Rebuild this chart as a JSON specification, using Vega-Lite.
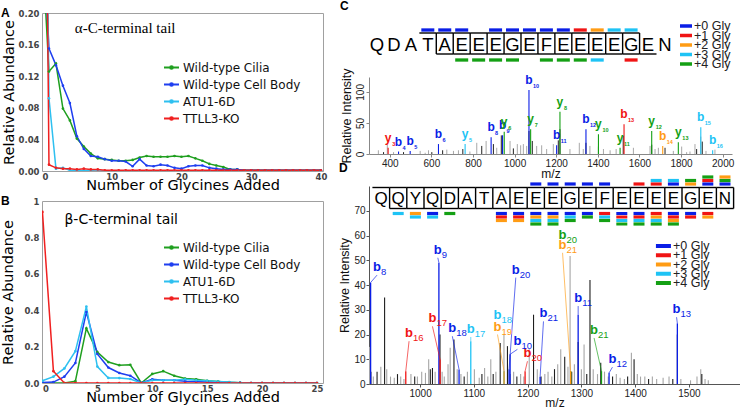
{
"$schema": "https://vega.github.io/schema/vega-lite/v6.json",
"background": "white",
"padding": {"left": 0, "top": 0, "right": 0, "bottom": 0},
"config": {"view": {"stroke": null}, "font": "Liberation Sans", "axis": {"labelOverlap": false, "labelBound": false}},
"datasets": {
"alpha": [
{"n":0,"Wild-type Cilia":0.29,"Wild-type Cell Body":0.33,"ATU1-6D":0.9,"TTLL3-KO":0.97},
{"n":1,"Wild-type Cilia":0.126,"Wild-type Cell Body":0.155,"ATU1-6D":0.092,"TTLL3-KO":0.008},
{"n":2,"Wild-type Cilia":0.136,"Wild-type Cell Body":0.134,"ATU1-6D":0.003,"TTLL3-KO":0.004},
{"n":3,"Wild-type Cilia":0.079,"Wild-type Cell Body":0.108,"ATU1-6D":0.004,"TTLL3-KO":0.003},
{"n":4,"Wild-type Cilia":0.064,"Wild-type Cell Body":0.086,"ATU1-6D":0.001,"TTLL3-KO":0.003},
{"n":5,"Wild-type Cilia":0.041,"Wild-type Cell Body":0.044,"ATU1-6D":0.0005,"TTLL3-KO":0.002},
{"n":6,"Wild-type Cilia":0.031,"Wild-type Cell Body":0.028,"ATU1-6D":0.0003,"TTLL3-KO":0.003},
{"n":7,"Wild-type Cilia":0.022,"Wild-type Cell Body":0.019,"ATU1-6D":0.0002,"TTLL3-KO":0.002},
{"n":8,"Wild-type Cilia":0.016,"Wild-type Cell Body":0.018,"ATU1-6D":0.0001,"TTLL3-KO":0.002},
{"n":9,"Wild-type Cilia":0.015,"Wild-type Cell Body":0.015,"ATU1-6D":0,"TTLL3-KO":0.001},
{"n":10,"Wild-type Cilia":0.014,"Wild-type Cell Body":0.013,"ATU1-6D":0,"TTLL3-KO":0.001},
{"n":11,"Wild-type Cilia":0.013,"Wild-type Cell Body":0.013,"ATU1-6D":0,"TTLL3-KO":0.001},
{"n":12,"Wild-type Cilia":0.013,"Wild-type Cell Body":0.012,"ATU1-6D":0,"TTLL3-KO":0.001},
{"n":13,"Wild-type Cilia":0.014,"Wild-type Cell Body":0.006,"ATU1-6D":0,"TTLL3-KO":0.001},
{"n":14,"Wild-type Cilia":0.017,"Wild-type Cell Body":0.015,"ATU1-6D":0,"TTLL3-KO":0.001},
{"n":15,"Wild-type Cilia":0.019,"Wild-type Cell Body":0.007,"ATU1-6D":0,"TTLL3-KO":0.001},
{"n":16,"Wild-type Cilia":0.018,"Wild-type Cell Body":0.006,"ATU1-6D":0,"TTLL3-KO":0.001},
{"n":17,"Wild-type Cilia":0.018,"Wild-type Cell Body":0.008,"ATU1-6D":0,"TTLL3-KO":0.001},
{"n":18,"Wild-type Cilia":0.018,"Wild-type Cell Body":0.007,"ATU1-6D":0,"TTLL3-KO":0.001},
{"n":19,"Wild-type Cilia":0.019,"Wild-type Cell Body":0.004,"ATU1-6D":0,"TTLL3-KO":0.001},
{"n":20,"Wild-type Cilia":0.018,"Wild-type Cell Body":0.003,"ATU1-6D":0,"TTLL3-KO":0.001},
{"n":21,"Wild-type Cilia":0.019,"Wild-type Cell Body":0.006,"ATU1-6D":0,"TTLL3-KO":0.001},
{"n":22,"Wild-type Cilia":0.016,"Wild-type Cell Body":0.007,"ATU1-6D":0,"TTLL3-KO":0.001},
{"n":23,"Wild-type Cilia":0.013,"Wild-type Cell Body":0.007,"ATU1-6D":0,"TTLL3-KO":0.001},
{"n":24,"Wild-type Cilia":0.009,"Wild-type Cell Body":0.004,"ATU1-6D":0,"TTLL3-KO":0.001},
{"n":25,"Wild-type Cilia":0.007,"Wild-type Cell Body":0.003,"ATU1-6D":0,"TTLL3-KO":0.001},
{"n":26,"Wild-type Cilia":0.005,"Wild-type Cell Body":0.002,"ATU1-6D":0,"TTLL3-KO":0.001},
{"n":27,"Wild-type Cilia":0.002,"Wild-type Cell Body":0.002,"ATU1-6D":0,"TTLL3-KO":0.001},
{"n":28,"Wild-type Cilia":0.002,"Wild-type Cell Body":0.002,"ATU1-6D":0,"TTLL3-KO":0.001},
{"n":29,"Wild-type Cilia":0.001,"Wild-type Cell Body":0.001,"ATU1-6D":0,"TTLL3-KO":0.001},
{"n":30,"Wild-type Cilia":0.001,"Wild-type Cell Body":0.001,"ATU1-6D":0,"TTLL3-KO":0.001},
{"n":31,"Wild-type Cilia":0.001,"Wild-type Cell Body":0.001,"ATU1-6D":0,"TTLL3-KO":0.001},
{"n":32,"Wild-type Cilia":0.001,"Wild-type Cell Body":0.001,"ATU1-6D":0,"TTLL3-KO":0.001},
{"n":33,"Wild-type Cilia":0.001,"Wild-type Cell Body":0.001,"ATU1-6D":0,"TTLL3-KO":0.001},
{"n":34,"Wild-type Cilia":0.001,"Wild-type Cell Body":0.001,"ATU1-6D":0,"TTLL3-KO":0.001},
{"n":35,"Wild-type Cilia":0.001,"Wild-type Cell Body":0.001,"ATU1-6D":0,"TTLL3-KO":0.001},
{"n":36,"Wild-type Cilia":0.001,"Wild-type Cell Body":0.001,"ATU1-6D":0,"TTLL3-KO":0.001},
{"n":37,"Wild-type Cilia":0.001,"Wild-type Cell Body":0.001,"ATU1-6D":0,"TTLL3-KO":0.001},
{"n":38,"Wild-type Cilia":0.001,"Wild-type Cell Body":0.001,"ATU1-6D":0,"TTLL3-KO":0.001},
{"n":39,"Wild-type Cilia":0.001,"Wild-type Cell Body":0.001,"ATU1-6D":0,"TTLL3-KO":0.001},
{"n":40,"Wild-type Cilia":0.001,"Wild-type Cell Body":0.001,"ATU1-6D":0,"TTLL3-KO":0.001}
],
"beta": [
{"n":0,"Wild-type Cilia":0,"Wild-type Cell Body":0.003,"ATU1-6D":0.012,"TTLL3-KO":0.94},
{"n":1,"Wild-type Cilia":0,"Wild-type Cell Body":0.005,"ATU1-6D":0.035,"TTLL3-KO":0.065},
{"n":2,"Wild-type Cilia":0,"Wild-type Cell Body":0.035,"ATU1-6D":0.08,"TTLL3-KO":0},
{"n":3,"Wild-type Cilia":0.01,"Wild-type Cell Body":0.11,"ATU1-6D":0.175,"TTLL3-KO":0},
{"n":4,"Wild-type Cilia":0.3,"Wild-type Cell Body":0.39,"ATU1-6D":0.42,"TTLL3-KO":0},
{"n":5,"Wild-type Cilia":0.17,"Wild-type Cell Body":0.16,"ATU1-6D":0.09,"TTLL3-KO":0},
{"n":6,"Wild-type Cilia":0.115,"Wild-type Cell Body":0.085,"ATU1-6D":0.028,"TTLL3-KO":0},
{"n":7,"Wild-type Cilia":0.098,"Wild-type Cell Body":0.055,"ATU1-6D":0.027,"TTLL3-KO":0},
{"n":8,"Wild-type Cilia":0.1,"Wild-type Cell Body":0.04,"ATU1-6D":0.022,"TTLL3-KO":0},
{"n":9,"Wild-type Cilia":0,"Wild-type Cell Body":0,"ATU1-6D":0,"TTLL3-KO":0},
{"n":10,"Wild-type Cilia":0.05,"Wild-type Cell Body":0.02,"ATU1-6D":0.015,"TTLL3-KO":0},
{"n":11,"Wild-type Cilia":0.065,"Wild-type Cell Body":0.015,"ATU1-6D":0.015,"TTLL3-KO":0},
{"n":12,"Wild-type Cilia":0.04,"Wild-type Cell Body":0.015,"ATU1-6D":0.015,"TTLL3-KO":0},
{"n":13,"Wild-type Cilia":0.025,"Wild-type Cell Body":0.01,"ATU1-6D":0.02,"TTLL3-KO":0},
{"n":14,"Wild-type Cilia":0.02,"Wild-type Cell Body":0.008,"ATU1-6D":0.015,"TTLL3-KO":0},
{"n":15,"Wild-type Cilia":0.012,"Wild-type Cell Body":0.005,"ATU1-6D":0.012,"TTLL3-KO":0},
{"n":16,"Wild-type Cilia":0.008,"Wild-type Cell Body":0.003,"ATU1-6D":0.008,"TTLL3-KO":0},
{"n":17,"Wild-type Cilia":0.004,"Wild-type Cell Body":0.002,"ATU1-6D":0.005,"TTLL3-KO":0},
{"n":18,"Wild-type Cilia":0.002,"Wild-type Cell Body":0.001,"ATU1-6D":0.002,"TTLL3-KO":0},
{"n":19,"Wild-type Cilia":0,"Wild-type Cell Body":0,"ATU1-6D":0,"TTLL3-KO":0},
{"n":20,"Wild-type Cilia":0,"Wild-type Cell Body":0,"ATU1-6D":0,"TTLL3-KO":0},
{"n":21,"Wild-type Cilia":0,"Wild-type Cell Body":0,"ATU1-6D":0,"TTLL3-KO":0},
{"n":22,"Wild-type Cilia":0,"Wild-type Cell Body":0,"ATU1-6D":0,"TTLL3-KO":0},
{"n":23,"Wild-type Cilia":0,"Wild-type Cell Body":0,"ATU1-6D":0,"TTLL3-KO":0},
{"n":24,"Wild-type Cilia":0,"Wild-type Cell Body":0,"ATU1-6D":0,"TTLL3-KO":0},
{"n":25,"Wild-type Cilia":0,"Wild-type Cell Body":0,"ATU1-6D":0,"TTLL3-KO":0}
],
"gly": [{"g":"+0 Gly"},{"g":"+1 Gly"},{"g":"+2 Gly"},{"g":"+3 Gly"},{"g":"+4 Gly"}],
"cpk": [{"mz":345,"i":6,"t":"l"},{"mz":370,"i":3,"t":"d"},{"mz":388,"i":15,"t":"l"},{"mz":418,"i":3,"t":"l"},{"mz":466,"i":3,"t":"d"},{"mz":546,"i":5,"t":"l"},{"mz":570,"i":2,"t":"l"},{"mz":586,"i":6,"t":"l"},{"mz":602,"i":3,"t":"d"},{"mz":654,"i":6,"t":"d"},{"mz":674,"i":7,"t":"l"},{"mz":706,"i":5,"t":"l"},{"mz":730,"i":6,"t":"l"},{"mz":751,"i":8,"t":"d"},{"mz":785,"i":4,"t":"l"},{"mz":818,"i":18,"t":"l"},{"mz":842,"i":13,"t":"d"},{"mz":863,"i":21,"t":"l"},{"mz":898,"i":16,"t":"d"},{"mz":914,"i":10,"t":"l"},{"mz":936,"i":30,"t":"d"},{"mz":978,"i":21,"t":"l"},{"mz":994,"i":9,"t":"d"},{"mz":1013,"i":16,"t":"l"},{"mz":1029,"i":14,"t":"l"},{"mz":1042,"i":16,"t":"l"},{"mz":1058,"i":13,"t":"l"},{"mz":1069,"i":37,"t":"d"},{"mz":1085,"i":21,"t":"d"},{"mz":1106,"i":13,"t":"l"},{"mz":1130,"i":14,"t":"l"},{"mz":1154,"i":8,"t":"l"},{"mz":1186,"i":16,"t":"l"},{"mz":1210,"i":22,"t":"d"},{"mz":1218,"i":40,"t":"d"},{"mz":1266,"i":8,"t":"l"},{"mz":1311,"i":18,"t":"l"},{"mz":1330,"i":8,"t":"l"},{"mz":1343,"i":18,"t":"d"},{"mz":1362,"i":13,"t":"l"},{"mz":1403,"i":12,"t":"d"},{"mz":1427,"i":8,"t":"l"},{"mz":1459,"i":6,"t":"l"},{"mz":1488,"i":8,"t":"l"},{"mz":1522,"i":29,"t":"d"},{"mz":1571,"i":10,"t":"l"},{"mz":1651,"i":13,"t":"l"},{"mz":1659,"i":15,"t":"d"},{"mz":1675,"i":8,"t":"l"},{"mz":1691,"i":10,"t":"l"},{"mz":1723,"i":10,"t":"d"},{"mz":1763,"i":5,"t":"l"},{"mz":1803,"i":12,"t":"l"},{"mz":1827,"i":3,"t":"l"},{"mz":1843,"i":4,"t":"l"},{"mz":1867,"i":16,"t":"l"},{"mz":1875,"i":8,"t":"d"},{"mz":1895,"i":28,"t":"l"},{"mz":1902,"i":20,"t":"d"},{"mz":1920,"i":5,"t":"l"},{"mz":1963,"i":7,"t":"l"}],
"cann": [
{"mz":392,"i":10,"g":"+1 Gly","ion":"y","k":"3"},
{"mz":442,"i":4,"g":"+0 Gly","ion":"b","k":"4"},
{"mz":498,"i":5,"g":"+0 Gly","ion":"b","k":"5"},
{"mz":634,"i":16,"g":"+0 Gly","ion":"b","k":"6"},
{"mz":762,"i":16,"g":"+3 Gly","ion":"y","k":"5"},
{"mz":887,"i":27,"g":"+0 Gly","ion":"b","k":"8"},
{"mz":942,"i":30,"g":"+0 Gly","ion":"b","k":"9"},
{"mz":950,"i":36,"g":"+4 Gly","ion":"y","k":"6"},
{"mz":1069,"i":103,"g":"+0 Gly","ion":"b","k":"10"},
{"mz":1077,"i":40,"g":"+4 Gly","ion":"y","k":"7"},
{"mz":1202,"i":14,"g":"+0 Gly","ion":"b","k":"11"},
{"mz":1218,"i":68,"g":"+4 Gly","ion":"y","k":"8"},
{"mz":1343,"i":40,"g":"+0 Gly","ion":"b","k":"12"},
{"mz":1403,"i":32,"g":"+4 Gly","ion":"y","k":"10"},
{"mz":1507,"i":10,"g":"+4 Gly","ion":"y","k":"11"},
{"mz":1526,"i":48,"g":"+1 Gly","ion":"b","k":"13"},
{"mz":1659,"i":37,"g":"+4 Gly","ion":"y","k":"12"},
{"mz":1712,"i":13,"g":"+2 Gly","ion":"b","k":"14"},
{"mz":1787,"i":19,"g":"+4 Gly","ion":"y","k":"13"},
{"mz":1895,"i":43,"g":"+3 Gly","ion":"b","k":"15"},
{"mz":1952,"i":6,"g":"+3 Gly","ion":"b","k":"16"}
],
"cseq": [{"p":1,"a":"Q"},{"p":2,"a":"D"},{"p":3,"a":"A"},{"p":4,"a":"T"},{"p":5,"a":"A"},{"p":6,"a":"E"},{"p":7,"a":"E"},{"p":8,"a":"E"},{"p":9,"a":"G"},{"p":10,"a":"E"},{"p":11,"a":"F"},{"p":12,"a":"E"},{"p":13,"a":"E"},{"p":14,"a":"E"},{"p":15,"a":"E"},{"p":16,"a":"G"},{"p":17,"a":"E"},{"p":18,"a":"N"}],
"csite": [{"n":4},{"n":5},{"n":6},{"n":7},{"n":8},{"n":9},{"n":10},{"n":11},{"n":12},{"n":13},{"n":14},{"n":15},{"n":16}],
"cbar": [
{"p":4,"g":"+0 Gly","lv":1},{"p":5,"g":"+0 Gly","lv":1},{"p":6,"g":"+0 Gly","lv":1},{"p":8,"g":"+0 Gly","lv":1},{"p":9,"g":"+0 Gly","lv":1},{"p":10,"g":"+0 Gly","lv":1},{"p":11,"g":"+0 Gly","lv":1},{"p":12,"g":"+0 Gly","lv":1},{"p":13,"g":"+1 Gly","lv":1},{"p":14,"g":"+2 Gly","lv":1},{"p":15,"g":"+3 Gly","lv":1},{"p":16,"g":"+3 Gly","lv":1},
{"p":6,"g":"+4 Gly","lv":-1},{"p":7,"g":"+4 Gly","lv":-1},{"p":8,"g":"+4 Gly","lv":-1},{"p":9,"g":"+4 Gly","lv":-1},{"p":11,"g":"+4 Gly","lv":-1},{"p":12,"g":"+4 Gly","lv":-1},{"p":13,"g":"+4 Gly","lv":-1},{"p":14,"g":"+3 Gly","lv":-1},{"p":16,"g":"+1 Gly","lv":-1}
],
"dpk": [{"mz":906,"i":15,"t":"l"},{"mz":908.5,"i":5,"t":"d"},{"mz":913,"i":3,"t":"l"},{"mz":920,"i":5,"t":"d"},{"mz":927,"i":7,"t":"l"},{"mz":934,"i":35,"t":"d"},{"mz":938,"i":6,"t":"l"},{"mz":945,"i":3,"t":"l"},{"mz":952,"i":2.5,"t":"l"},{"mz":958,"i":4,"t":"d"},{"mz":964,"i":3,"t":"l"},{"mz":970,"i":2,"t":"l"},{"mz":983,"i":4,"t":"l"},{"mz":990,"i":3,"t":"d"},{"mz":995,"i":3,"t":"l"},{"mz":1003,"i":5,"t":"l"},{"mz":1010,"i":4.5,"t":"l"},{"mz":1016,"i":10,"t":"l"},{"mz":1019,"i":6,"t":"d"},{"mz":1023,"i":6.5,"t":"d"},{"mz":1028,"i":5,"t":"l"},{"mz":1037,"i":20,"t":"d"},{"mz":1041,"i":5,"t":"l"},{"mz":1045,"i":3,"t":"l"},{"mz":1052,"i":8,"t":"l"},{"mz":1056,"i":14.6,"t":"l"},{"mz":1063,"i":18,"t":"d"},{"mz":1069,"i":6,"t":"l"},{"mz":1076,"i":4,"t":"l"},{"mz":1082,"i":3,"t":"d"},{"mz":1088,"i":5,"t":"l"},{"mz":1101,"i":6,"t":"l"},{"mz":1110,"i":2.5,"t":"l"},{"mz":1115,"i":4,"t":"d"},{"mz":1120,"i":6.5,"t":"l"},{"mz":1126,"i":3,"t":"l"},{"mz":1131.5,"i":10,"t":"l"},{"mz":1136,"i":4,"t":"d"},{"mz":1141,"i":5,"t":"l"},{"mz":1149,"i":16.6,"t":"d"},{"mz":1156,"i":20,"t":"l"},{"mz":1162.5,"i":15.3,"t":"d"},{"mz":1168,"i":4,"t":"l"},{"mz":1174,"i":5,"t":"l"},{"mz":1180,"i":3,"t":"d"},{"mz":1187,"i":4,"t":"l"},{"mz":1193,"i":3,"t":"l"},{"mz":1203,"i":14,"t":"l"},{"mz":1211,"i":28,"t":"d"},{"mz":1218,"i":6,"t":"l"},{"mz":1225,"i":3,"t":"d"},{"mz":1232,"i":4,"t":"l"},{"mz":1238,"i":5,"t":"l"},{"mz":1245,"i":3,"t":"l"},{"mz":1250,"i":6,"t":"d"},{"mz":1256,"i":8,"t":"l"},{"mz":1261.6,"i":14,"t":"l"},{"mz":1269,"i":11,"t":"d"},{"mz":1275,"i":7,"t":"l"},{"mz":1279,"i":51.7,"t":"l"},{"mz":1282,"i":5,"t":"d"},{"mz":1287,"i":8,"t":"l"},{"mz":1294,"i":17,"t":"d"},{"mz":1300,"i":6,"t":"l"},{"mz":1305,"i":16,"t":"l"},{"mz":1310,"i":4,"t":"d"},{"mz":1316,"i":42,"t":"d"},{"mz":1322,"i":6,"t":"l"},{"mz":1330,"i":4,"t":"l"},{"mz":1336,"i":8.6,"t":"d"},{"mz":1343,"i":5,"t":"l"},{"mz":1350,"i":3,"t":"l"},{"mz":1358,"i":3,"t":"d"},{"mz":1365,"i":4,"t":"l"},{"mz":1372,"i":2.5,"t":"l"},{"mz":1380,"i":2,"t":"l"},{"mz":1386,"i":3,"t":"d"},{"mz":1393,"i":12.6,"t":"l"},{"mz":1398,"i":10,"t":"d"},{"mz":1404,"i":4,"t":"l"},{"mz":1410,"i":3,"t":"l"},{"mz":1418,"i":3,"t":"l"},{"mz":1425,"i":2,"t":"d"},{"mz":1432,"i":3,"t":"l"},{"mz":1440,"i":2,"t":"l"},{"mz":1452,"i":2.5,"t":"l"},{"mz":1463,"i":3,"t":"l"},{"mz":1470,"i":2,"t":"d"},{"mz":1478.5,"i":20,"t":"d"},{"mz":1485,"i":2,"t":"l"},{"mz":1503,"i":1.5,"t":"l"},{"mz":1515,"i":3,"t":"l"},{"mz":1522,"i":6,"t":"l"},{"mz":1524,"i":4,"t":"d"},{"mz":1530,"i":2,"t":"l"},{"mz":1536,"i":1.5,"t":"l"}],
"dann": [
{"mz":908,"i":41,"g":"+0 Gly","ion":"b","k":"8","lmz":920,"li":44,"ld":1},
{"mz":1035,"i":49,"g":"+0 Gly","ion":"b","k":"9","lmz":1033,"li":51,"ld":1},
{"mz":1165.5,"i":6,"g":"+0 Gly","ion":"b","k":"20","lmz":1178,"li":43,"ld":1},
{"mz":1280,"i":5.2,"g":"+4 Gly","ion":"b","k":"20","lmz":1265,"li":57,"ld":0},
{"mz":1280,"i":5.2,"g":"+2 Gly","ion":"b","k":"21","lmz":1265,"li":53,"ld":1},
{"mz":1294,"i":28,"g":"+0 Gly","ion":"b","k":"11","lmz":1294,"li":31.5,"ld":1},
{"mz":1478.5,"i":24.5,"g":"+0 Gly","ion":"b","k":"13","lmz":1477,"li":27,"ld":1},
{"mz":973.4,"i":5.2,"g":"+1 Gly","ion":"b","k":"16","lmz":979.5,"li":17.3,"ld":1},
{"mz":1037.2,"i":9.9,"g":"+1 Gly","ion":"b","k":"17","lmz":1023,"li":23.3,"ld":1},
{"mz":1072.5,"i":5.9,"g":"+0 Gly","ion":"b","k":"18","lmz":1060,"li":19.3,"ld":1},
{"mz":1094.3,"i":17.3,"g":"+3 Gly","ion":"b","k":"17","lmz":1094.3,"li":19,"ld":1},
{"mz":1156.2,"i":5.2,"g":"+3 Gly","ion":"b","k":"18","lmz":1144,"li":24.5,"ld":0},
{"mz":1156.2,"i":5.2,"g":"+2 Gly","ion":"b","k":"19","lmz":1144,"li":20,"ld":1},
{"mz":1167.4,"i":12,"g":"+0 Gly","ion":"b","k":"10","lmz":1181,"li":14,"ld":1},
{"mz":1195.3,"i":5.2,"g":"+1 Gly","ion":"b","k":"20","lmz":1199.7,"li":9.2,"ld":1},
{"mz":1223.2,"i":2.8,"g":"+0 Gly","ion":"b","k":"21","lmz":1229.5,"li":25.3,"ld":1},
{"mz":1337.4,"i":5.2,"g":"+4 Gly","ion":"b","k":"21","lmz":1323.6,"li":18.6,"ld":1},
{"mz":1351.5,"i":4.5,"g":"+0 Gly","ion":"b","k":"12","lmz":1357.8,"li":6.8,"ld":1}
],
"dseq": [{"p":1,"a":"Q"},{"p":2,"a":"Q"},{"p":3,"a":"Y"},{"p":4,"a":"Q"},{"p":5,"a":"D"},{"p":6,"a":"A"},{"p":7,"a":"T"},{"p":8,"a":"A"},{"p":9,"a":"E"},{"p":10,"a":"E"},{"p":11,"a":"E"},{"p":12,"a":"G"},{"p":13,"a":"E"},{"p":14,"a":"F"},{"p":15,"a":"E"},{"p":16,"a":"E"},{"p":17,"a":"E"},{"p":18,"a":"E"},{"p":19,"a":"G"},{"p":20,"a":"E"},{"p":21,"a":"N"}],
"dsite": [{"n":1},{"n":2},{"n":3},{"n":4},{"n":5},{"n":6},{"n":7},{"n":8},{"n":9},{"n":10},{"n":11},{"n":12},{"n":13},{"n":14},{"n":15},{"n":16},{"n":17},{"n":18},{"n":19},{"n":20},{"n":21}],
"dbar": [
{"p":10,"g":"+0 Gly","lv":1},{"p":11,"g":"+0 Gly","lv":1},{"p":12,"g":"+0 Gly","lv":1},{"p":13,"g":"+0 Gly","lv":1},{"p":14,"g":"+0 Gly","lv":1},
{"p":16,"g":"+1 Gly","lv":1},
{"p":17,"g":"+1 Gly","lv":1},{"p":17,"g":"+3 Gly","lv":2},
{"p":18,"g":"+0 Gly","lv":1},{"p":18,"g":"+3 Gly","lv":2},
{"p":19,"g":"+2 Gly","lv":1},{"p":19,"g":"+4 Gly","lv":2},
{"p":20,"g":"+0 Gly","lv":1},{"p":20,"g":"+1 Gly","lv":2},{"p":20,"g":"+4 Gly","lv":3},
{"p":21,"g":"+0 Gly","lv":1},{"p":21,"g":"+4 Gly","lv":2},{"p":21,"g":"+2 Gly","lv":3},
{"p":2,"g":"+3 Gly","lv":-1},
{"p":3,"g":"+2 Gly","lv":-1},{"p":3,"g":"+3 Gly","lv":-2},
{"p":4,"g":"+0 Gly","lv":-1},{"p":4,"g":"+3 Gly","lv":-2},
{"p":5,"g":"+4 Gly","lv":-1},
{"p":8,"g":"+0 Gly","lv":-1},{"p":8,"g":"+1 Gly","lv":-2},{"p":8,"g":"+2 Gly","lv":-3},
{"p":9,"g":"+0 Gly","lv":-1},{"p":9,"g":"+1 Gly","lv":-2},{"p":9,"g":"+2 Gly","lv":-3},
{"p":10,"g":"+0 Gly","lv":-1},{"p":10,"g":"+2 Gly","lv":-2},{"p":10,"g":"+3 Gly","lv":-3},{"p":10,"g":"+4 Gly","lv":-4},
{"p":11,"g":"+0 Gly","lv":-1},{"p":11,"g":"+2 Gly","lv":-2},{"p":11,"g":"+3 Gly","lv":-3},{"p":11,"g":"+4 Gly","lv":-4},
{"p":12,"g":"+0 Gly","lv":-1},{"p":12,"g":"+3 Gly","lv":-2},{"p":12,"g":"+4 Gly","lv":-3},
{"p":13,"g":"+0 Gly","lv":-1},{"p":13,"g":"+4 Gly","lv":-2},
{"p":14,"g":"+1 Gly","lv":-1},{"p":14,"g":"+3 Gly","lv":-2},{"p":14,"g":"+4 Gly","lv":-3},
{"p":15,"g":"+0 Gly","lv":-1},{"p":15,"g":"+1 Gly","lv":-2},{"p":15,"g":"+3 Gly","lv":-3},{"p":15,"g":"+4 Gly","lv":-4},
{"p":16,"g":"+0 Gly","lv":-1},{"p":16,"g":"+1 Gly","lv":-2},{"p":16,"g":"+3 Gly","lv":-3},{"p":16,"g":"+4 Gly","lv":-4},
{"p":17,"g":"+1 Gly","lv":-1},{"p":17,"g":"+2 Gly","lv":-2},{"p":17,"g":"+3 Gly","lv":-3},{"p":17,"g":"+4 Gly","lv":-4},
{"p":18,"g":"+0 Gly","lv":-1},{"p":18,"g":"+1 Gly","lv":-2},{"p":18,"g":"+2 Gly","lv":-3},{"p":18,"g":"+4 Gly","lv":-4},
{"p":19,"g":"+0 Gly","lv":-1},{"p":19,"g":"+1 Gly","lv":-2},
{"p":20,"g":"+1 Gly","lv":-1},{"p":20,"g":"+2 Gly","lv":-2}
]
},
"spacing": 10,
"resolve": {"scale": {"color": "independent"}},
"hconcat": [
{
"spacing": 1,
"resolve": {"scale": {"color": "independent"}},
"vconcat": [
{
"title": {"text": "A", "anchor": "start", "frame": "bounds", "font": "Liberation Sans", "fontSize": 12, "fontWeight": "bold", "offset": -11},
"width": 281, "height": 158,
"view": {"stroke": "#a0a0a0"},
"resolve": {"scale": {"y": "independent"}},
"layer": [
{"data": {"name": "alpha"}, "transform": [{"fold": ["Wild-type Cilia", "Wild-type Cell Body", "ATU1-6D", "TTLL3-KO"], "as": ["s", "v"]}],
"mark": {"type": "line", "clip": true, "strokeWidth": 1.5, "point": {"filled": true, "size": 7, "clip": true}},
"encoding": {
"x": {"field": "n", "type": "quantitative", "scale": {"domain": [0, 40.3], "nice": false, "zero": false}, "axis": {"values": [0,10,20,30,40], "title": "Number of Glycines Added", "titleFont": "DejaVu Sans", "titleFontSize": 14.5, "titleFontWeight": "normal", "titleColor": "#000", "titlePadding": -2, "labelFont": "DejaVu Sans", "labelFontSize": 8.5, "labelFontWeight": "bold", "labelColor": "#444", "labelPadding": 1, "ticks": false, "domain": false, "grid": false}},
"y": {"field": "v", "type": "quantitative", "scale": {"domain": [0, 0.2], "nice": false}, "axis": {"orient": "left", "values": [0,0.08,0.16], "format": ".2f", "labelOverlap": false, "title": "Relative Abundance", "titleFont": "DejaVu Sans", "titleFontSize": 14.5, "titleFontWeight": "normal", "titleColor": "#000", "titlePadding": 2, "labelFont": "DejaVu Sans", "labelFontSize": 8.5, "labelFontWeight": "bold", "labelColor": "#444", "labelPadding": 3, "ticks": false, "domain": false, "grid": false}},
"color": {"field": "s", "type": "nominal", "scale": {"domain": ["Wild-type Cilia", "Wild-type Cell Body", "ATU1-6D", "TTLL3-KO"], "range": ["#1f9f1f", "#1f3ff0", "#2ec0f0", "#f02020"]}, "legend": {"title": null, "orient": "none", "legendX": 121, "legendY": 46, "symbolType": "M-1,0H1M-0.18,0A0.18,0.18,0,1,0,0.18,0A0.18,0.18,0,1,0,-0.18,0", "symbolStrokeWidth": 2, "symbolSize": 225, "labelFont": "DejaVu Sans", "labelFontSize": 12, "labelColor": "#111", "rowPadding": 2, "labelOffset": 3, "padding": 0}}
}},
{"data": {"values": [{"t": "α-C-terminal tail"}]},
"mark": {"type": "text", "font": "Liberation Serif", "fontSize": 15, "align": "left", "baseline": "middle", "color": "#000"},
"encoding": {"x": {"datum": 4.7},
"y": {"datum": 0.181, "type": "quantitative", "scale": {"domain": [0, 0.2], "nice": false}, "axis": {"orient": "left", "values": [0.04,0.12,0.2], "format": ".2f", "labelOverlap": false, "title": null, "labelFont": "DejaVu Sans", "labelFontSize": 8.5, "labelFontWeight": "bold", "labelColor": "#444", "labelPadding": 3, "ticks": false, "domain": false, "grid": false}},
"text": {"field": "t"}}}
]
},
{
"title": {"text": "B", "anchor": "start", "frame": "bounds", "font": "Liberation Sans", "fontSize": 12, "fontWeight": "bold", "offset": -11},
"width": 281, "height": 182,
"view": {"stroke": "#a0a0a0"},
"resolve": {"scale": {"y": "independent"}},
"layer": [
{"data": {"name": "beta"}, "transform": [{"fold": ["Wild-type Cilia", "Wild-type Cell Body", "ATU1-6D", "TTLL3-KO"], "as": ["s", "v"]}],
"mark": {"type": "line", "clip": true, "strokeWidth": 1.5, "point": {"filled": true, "size": 7, "clip": true}},
"encoding": {
"x": {"field": "n", "type": "quantitative", "scale": {"domain": [-0.04, 25.55], "nice": false, "zero": false}, "axis": {"values": [0,5,10,15,20,25], "title": "Number of Glycines Added", "titleFont": "DejaVu Sans", "titleFontSize": 14.5, "titleFontWeight": "normal", "titleColor": "#000", "titlePadding": -2, "labelFont": "DejaVu Sans", "labelFontSize": 8.5, "labelFontWeight": "bold", "labelColor": "#444", "labelPadding": 1, "ticks": false, "domain": false, "grid": false}},
"y": {"field": "v", "type": "quantitative", "scale": {"domain": [0, 1], "nice": false}, "axis": {"orient": "left", "values": [0,0.4,0.8], "format": ".1f", "labelOverlap": false, "title": "Relative Abundance", "titleFont": "DejaVu Sans", "titleFontSize": 14.5, "titleFontWeight": "normal", "titleColor": "#000", "titlePadding": 8, "labelFont": "DejaVu Sans", "labelFontSize": 8.5, "labelFontWeight": "bold", "labelColor": "#444", "labelPadding": 3, "ticks": false, "domain": false, "grid": false}},
"color": {"field": "s", "type": "nominal", "scale": {"domain": ["Wild-type Cilia", "Wild-type Cell Body", "ATU1-6D", "TTLL3-KO"], "range": ["#1f9f1f", "#1f3ff0", "#2ec0f0", "#f02020"]}, "legend": {"title": null, "orient": "none", "legendX": 121, "legendY": 38, "symbolType": "M-1,0H1M-0.18,0A0.18,0.18,0,1,0,0.18,0A0.18,0.18,0,1,0,-0.18,0", "symbolStrokeWidth": 2, "symbolSize": 225, "labelFont": "DejaVu Sans", "labelFontSize": 12, "labelColor": "#111", "rowPadding": 2, "labelOffset": 3, "padding": 0}}
}},
{"data": {"values": [{"t": "β-C-terminal tail"}]},
"mark": {"type": "text", "font": "DejaVu Sans", "fontSize": 14, "align": "left", "baseline": "middle", "color": "#000"},
"encoding": {"x": {"datum": 2.0},
"y": {"datum": 0.895, "type": "quantitative", "scale": {"domain": [0, 1], "nice": false}, "axis": {"orient": "left", "values": [0.2,0.6,1], "labelExpr": "datum.value == 1 ? '1' : format(datum.value, '.1f')", "labelOverlap": false, "title": null, "labelFont": "DejaVu Sans", "labelFontSize": 8.5, "labelFontWeight": "bold", "labelColor": "#444", "labelPadding": 3, "ticks": false, "domain": false, "grid": false}},
"text": {"field": "t"}}}
]
}
]
},
{
"spacing": -17,
"resolve": {"scale": {"color": "independent"}},
"vconcat": [
{
"title": {"text": "C", "anchor": "start", "frame": "bounds", "font": "Liberation Sans", "fontSize": 12, "fontWeight": "bold", "offset": 0},
"spacing": -4,
"resolve": {"scale": {"color": "independent"}},
"vconcat": [
{
"width": 363, "height": 56,
"resolve": {"scale": {"y": "independent"}},
"layer": [
{"layer": [
{"data": {"name": "cseq"}, "mark": {"type": "text", "font": "Liberation Sans", "fontSize": 18.5, "baseline": "middle", "align": "center", "color": "#000"},
"encoding": {"x": {"field": "p", "type": "quantitative", "scale": {"domain": [0.5278, 21.956], "nice": false, "zero": false}, "axis": null}, "y": {"datum": 0, "scale": {"domain": [-1.6, 2.133], "nice": false, "zero": false}, "axis": null}, "text": {"field": "a"}}},
{"data": {"name": "csite"}, "mark": {"type": "rule", "xOffset": 8.47, "strokeWidth": 1.4, "color": "#000"},
"encoding": {"x": {"field": "n", "type": "quantitative", "scale": {"domain": [0.5278, 21.956], "nice": false, "zero": false}, "axis": null}, "y": {"datum": 0.8, "scale": {"domain": [-1.6, 2.133], "nice": false, "zero": false}, "axis": null}, "y2": {"datum": -0.6}}},
{"data": {"name": "csite"}, "mark": {"type": "rule", "xOffset": -8.47, "x2Offset": 8.47, "strokeWidth": 1.4, "color": "#000"},
"encoding": {"x": {"field": "n", "type": "quantitative", "scale": {"domain": [0.5278, 21.956], "nice": false, "zero": false}, "axis": null}, "x2": {"field": "n"}, "y": {"datum": 0.8, "scale": {"domain": [-1.6, 2.133], "nice": false, "zero": false}, "axis": null}}},
{"data": {"name": "csite"}, "mark": {"type": "rule", "xOffset": 8.47, "x2Offset": 25.4, "strokeWidth": 1.4, "color": "#000"},
"encoding": {"x": {"field": "n", "type": "quantitative", "scale": {"domain": [0.5278, 21.956], "nice": false, "zero": false}, "axis": null}, "x2": {"field": "n"}, "y": {"datum": -0.6, "scale": {"domain": [-1.6, 2.133], "nice": false, "zero": false}, "axis": null}}},
{"data": {"name": "cbar"}, "mark": {"type": "tick", "orient": "horizontal", "size": 13, "thickness": 3.3, "opacity": 1},
"encoding": {"x": {"field": "p", "type": "quantitative", "scale": {"domain": [0.5278, 21.956], "nice": false, "zero": false}, "axis": null}, "y": {"field": "lv", "type": "quantitative", "scale": {"domain": [-1.6, 2.133], "nice": false, "zero": false}, "axis": null},
"color": {"field": "g", "type": "nominal", "scale": {"domain": ["+0 Gly", "+1 Gly", "+2 Gly", "+3 Gly", "+4 Gly"], "range": ["#0a1ee6", "#f01414", "#ff9c14", "#1ec3f5", "#14a014"]}, "legend": null}}}
]},
{"layer": [
{"data": {"name": "gly"}, "mark": {"type": "tick", "orient": "horizontal", "size": 12, "thickness": 3.5, "opacity": 1},
"encoding": {"x": {"datum": 19.24, "type": "quantitative", "scale": {"domain": [0.5278, 21.956], "nice": false, "zero": false}, "axis": null}, "y": {"field": "g", "type": "nominal", "scale": {"type": "point", "padding": 0, "range": [13, 51], "domain": ["+0 Gly", "+1 Gly", "+2 Gly", "+3 Gly", "+4 Gly"]}, "axis": null},
"color": {"field": "g", "type": "nominal", "scale": {"domain": ["+0 Gly", "+1 Gly", "+2 Gly", "+3 Gly", "+4 Gly"], "range": ["#0a1ee6", "#f01414", "#ff9c14", "#1ec3f5", "#14a014"]}, "legend": null}}},
{"data": {"name": "gly"}, "mark": {"type": "text", "font": "Liberation Sans", "fontSize": 12.5, "align": "left", "baseline": "middle", "color": "#222"},
"encoding": {"x": {"datum": 19.71, "type": "quantitative", "scale": {"domain": [0.5278, 21.956], "nice": false, "zero": false}, "axis": null}, "y": {"field": "g", "type": "nominal", "scale": {"type": "point", "padding": 0, "range": [13, 51], "domain": ["+0 Gly", "+1 Gly", "+2 Gly", "+3 Gly", "+4 Gly"]}, "axis": null}, "text": {"field": "g"}}}
]}
]
},
{
"width": 363, "height": 77,
"layer": [
{"data": {"name": "cpk"}, "transform": [{"filter": "datum.t == 'l'"}], "mark": {"type": "rule", "strokeWidth": 1, "color": "#a8a8a8"},
"encoding": {"x": {"field": "mz", "type": "quantitative", "scale": {"domain": [300, 2045], "nice": false, "zero": false}, "axis": {"values": [400,600,800,1000,1200,1400,1600,1800,2000], "format": "d", "title": "m/z", "titleFont": "Liberation Sans", "titleFontSize": 12, "titleFontWeight": "normal", "titleColor": "#111", "titlePadding": 0, "labelFont": "Liberation Sans", "labelFontSize": 10, "labelColor": "#222", "labelPadding": 1, "tickSize": 3, "domainColor": "#888", "tickColor": "#888", "grid": false}},
"y": {"field": "i", "type": "quantitative", "scale": {"domain": [0, 124], "nice": false}, "axis": {"values": [0,50,100], "title": "Relative Intensity", "titleFont": "Liberation Sans", "titleFontSize": 12.5, "titleFontWeight": "normal", "titleColor": "#111", "titlePadding": 2, "labelFont": "Liberation Sans", "labelFontSize": 10, "labelColor": "#222", "labelAngle": 270, "labelAlign": "center", "labelBaseline": "bottom", "labelPadding": 1, "tickSize": 3, "domainColor": "#888", "tickColor": "#888", "grid": false}},
"y2": {"datum": 0}}},
{"data": {"name": "cpk"}, "transform": [{"filter": "datum.t == 'd'"}], "mark": {"type": "rule", "strokeWidth": 1, "color": "#222"},
"encoding": {"x": {"field": "mz", "type": "quantitative", "scale": {"domain": [300, 2045], "nice": false, "zero": false}, "axis": {"values": [400,600,800,1000,1200,1400,1600,1800,2000], "format": "d", "title": "m/z", "titleFont": "Liberation Sans", "titleFontSize": 12, "titleFontWeight": "normal", "titleColor": "#111", "titlePadding": 0, "labelFont": "Liberation Sans", "labelFontSize": 10, "labelColor": "#222", "labelPadding": 1, "tickSize": 3, "domainColor": "#888", "tickColor": "#888", "grid": false}},
"y": {"field": "i", "type": "quantitative", "scale": {"domain": [0, 124], "nice": false}, "axis": {"values": [0,50,100], "title": "Relative Intensity", "titleFont": "Liberation Sans", "titleFontSize": 12.5, "titleFontWeight": "normal", "titleColor": "#111", "titlePadding": 2, "labelFont": "Liberation Sans", "labelFontSize": 10, "labelColor": "#222", "labelAngle": 270, "labelAlign": "center", "labelBaseline": "bottom", "labelPadding": 1, "tickSize": 3, "domainColor": "#888", "tickColor": "#888", "grid": false}},
"y2": {"datum": 0}}},
{"data": {"name": "cann"}, "mark": {"type": "rule", "strokeWidth": 1.1},
"encoding": {"x": {"field": "mz", "type": "quantitative", "scale": {"domain": [300, 2045], "nice": false, "zero": false}, "axis": {"values": [400,600,800,1000,1200,1400,1600,1800,2000], "format": "d", "title": "m/z", "titleFont": "Liberation Sans", "titleFontSize": 12, "titleFontWeight": "normal", "titleColor": "#111", "titlePadding": 0, "labelFont": "Liberation Sans", "labelFontSize": 10, "labelColor": "#222", "labelPadding": 1, "tickSize": 3, "domainColor": "#888", "tickColor": "#888", "grid": false}},
"y": {"field": "i", "type": "quantitative", "scale": {"domain": [0, 124], "nice": false}, "axis": {"values": [0,50,100], "title": "Relative Intensity", "titleFont": "Liberation Sans", "titleFontSize": 12.5, "titleFontWeight": "normal", "titleColor": "#111", "titlePadding": 2, "labelFont": "Liberation Sans", "labelFontSize": 10, "labelColor": "#222", "labelAngle": 270, "labelAlign": "center", "labelBaseline": "bottom", "labelPadding": 1, "tickSize": 3, "domainColor": "#888", "tickColor": "#888", "grid": false}},
"y2": {"datum": 0},
"color": {"field": "g", "type": "nominal", "scale": {"domain": ["+0 Gly", "+1 Gly", "+2 Gly", "+3 Gly", "+4 Gly"], "range": ["#0a1ee6", "#f01414", "#ff9c14", "#1ec3f5", "#14a014"]}, "legend": null}}},
{"data": {"name": "cann"}, "mark": {"type": "text", "font": "Liberation Sans", "fontSize": 12, "fontWeight": "bold", "baseline": "bottom", "align": "center", "dy": -3},
"encoding": {"x": {"field": "mz", "type": "quantitative", "scale": {"domain": [300, 2045], "nice": false, "zero": false}, "axis": {"values": [400,600,800,1000,1200,1400,1600,1800,2000], "format": "d", "title": "m/z", "titleFont": "Liberation Sans", "titleFontSize": 12, "titleFontWeight": "normal", "titleColor": "#111", "titlePadding": 0, "labelFont": "Liberation Sans", "labelFontSize": 10, "labelColor": "#222", "labelPadding": 1, "tickSize": 3, "domainColor": "#888", "tickColor": "#888", "grid": false}},
"y": {"field": "i", "type": "quantitative", "scale": {"domain": [0, 124], "nice": false}, "axis": {"values": [0,50,100], "title": "Relative Intensity", "titleFont": "Liberation Sans", "titleFontSize": 12.5, "titleFontWeight": "normal", "titleColor": "#111", "titlePadding": 2, "labelFont": "Liberation Sans", "labelFontSize": 10, "labelColor": "#222", "labelAngle": 270, "labelAlign": "center", "labelBaseline": "bottom", "labelPadding": 1, "tickSize": 3, "domainColor": "#888", "tickColor": "#888", "grid": false}},
"text": {"field": "ion"},
"color": {"field": "g", "type": "nominal", "scale": {"domain": ["+0 Gly", "+1 Gly", "+2 Gly", "+3 Gly", "+4 Gly"], "range": ["#0a1ee6", "#f01414", "#ff9c14", "#1ec3f5", "#14a014"]}, "legend": null}}},
{"data": {"name": "cann"}, "mark": {"type": "text", "font": "Liberation Sans", "fontSize": 5.5, "fontWeight": "bold", "baseline": "bottom", "align": "left", "dx": 4, "dy": -1},
"encoding": {"x": {"field": "mz", "type": "quantitative", "scale": {"domain": [300, 2045], "nice": false, "zero": false}, "axis": {"values": [400,600,800,1000,1200,1400,1600,1800,2000], "format": "d", "title": "m/z", "titleFont": "Liberation Sans", "titleFontSize": 12, "titleFontWeight": "normal", "titleColor": "#111", "titlePadding": 0, "labelFont": "Liberation Sans", "labelFontSize": 10, "labelColor": "#222", "labelPadding": 1, "tickSize": 3, "domainColor": "#888", "tickColor": "#888", "grid": false}},
"y": {"field": "i", "type": "quantitative", "scale": {"domain": [0, 124], "nice": false}, "axis": {"values": [0,50,100], "title": "Relative Intensity", "titleFont": "Liberation Sans", "titleFontSize": 12.5, "titleFontWeight": "normal", "titleColor": "#111", "titlePadding": 2, "labelFont": "Liberation Sans", "labelFontSize": 10, "labelColor": "#222", "labelAngle": 270, "labelAlign": "center", "labelBaseline": "bottom", "labelPadding": 1, "tickSize": 3, "domainColor": "#888", "tickColor": "#888", "grid": false}},
"text": {"field": "k"},
"color": {"field": "g", "type": "nominal", "scale": {"domain": ["+0 Gly", "+1 Gly", "+2 Gly", "+3 Gly", "+4 Gly"], "range": ["#0a1ee6", "#f01414", "#ff9c14", "#1ec3f5", "#14a014"]}, "legend": null}}}
]
}
]
},
{
"title": {"text": "D", "anchor": "start", "frame": "bounds", "font": "Liberation Sans", "fontSize": 12, "fontWeight": "bold", "offset": 0},
"width": 371, "height": 198,
"resolve": {"scale": {"x": "independent", "y": "independent"}},
"layer": [
{
"layer": [
{"data": {"name": "dpk"}, "transform": [{"filter": "datum.t == 'l'"}], "mark": {"type": "rule", "strokeWidth": 1.1, "color": "#a6a6a6"},
"encoding": {"x": {"field": "mz", "type": "quantitative", "scale": {"domain": [905, 1595], "nice": false, "zero": false}, "axis": {"values": [1000,1100,1200,1300,1400,1500], "format": "d", "title": "m/z", "titleFont": "Liberation Sans", "titleFontSize": 12, "titleFontWeight": "normal", "titleColor": "#111", "titlePadding": -1, "labelFont": "Liberation Sans", "labelFontSize": 10, "labelColor": "#222", "labelPadding": 1, "tickSize": 3, "domainColor": "#555", "tickColor": "#555", "grid": false}},
"y": {"field": "i", "type": "quantitative", "scale": {"domain": [0, 80], "nice": false}, "axis": {"values": [0,10,20,30,40,50,60,70], "title": "Relative Intensity", "titleFont": "Liberation Sans", "titleFontSize": 12.5, "titleFontWeight": "normal", "titleColor": "#111", "titlePadding": 2, "labelFont": "Liberation Sans", "labelFontSize": 10, "labelColor": "#222", "labelPadding": 1, "tickSize": 3, "domainColor": "#555", "tickColor": "#555", "grid": false}},
"y2": {"datum": 0}}},
{"data": {"name": "dpk"}, "transform": [{"filter": "datum.t == 'd'"}], "mark": {"type": "rule", "strokeWidth": 1.1, "color": "#1e1e1e"},
"encoding": {"x": {"field": "mz", "type": "quantitative", "scale": {"domain": [905, 1595], "nice": false, "zero": false}, "axis": {"values": [1000,1100,1200,1300,1400,1500], "format": "d", "title": "m/z", "titleFont": "Liberation Sans", "titleFontSize": 12, "titleFontWeight": "normal", "titleColor": "#111", "titlePadding": -1, "labelFont": "Liberation Sans", "labelFontSize": 10, "labelColor": "#222", "labelPadding": 1, "tickSize": 3, "domainColor": "#555", "tickColor": "#555", "grid": false}},
"y": {"field": "i", "type": "quantitative", "scale": {"domain": [0, 80], "nice": false}, "axis": {"values": [0,10,20,30,40,50,60,70], "title": "Relative Intensity", "titleFont": "Liberation Sans", "titleFontSize": 12.5, "titleFontWeight": "normal", "titleColor": "#111", "titlePadding": 2, "labelFont": "Liberation Sans", "labelFontSize": 10, "labelColor": "#222", "labelPadding": 1, "tickSize": 3, "domainColor": "#555", "tickColor": "#555", "grid": false}},
"y2": {"datum": 0}}},
{"data": {"name": "dann"}, "mark": {"type": "rule", "strokeWidth": 1.3},
"encoding": {"x": {"field": "mz", "type": "quantitative", "scale": {"domain": [905, 1595], "nice": false, "zero": false}, "axis": {"values": [1000,1100,1200,1300,1400,1500], "format": "d", "title": "m/z", "titleFont": "Liberation Sans", "titleFontSize": 12, "titleFontWeight": "normal", "titleColor": "#111", "titlePadding": -1, "labelFont": "Liberation Sans", "labelFontSize": 10, "labelColor": "#222", "labelPadding": 1, "tickSize": 3, "domainColor": "#555", "tickColor": "#555", "grid": false}},
"y": {"field": "i", "type": "quantitative", "scale": {"domain": [0, 80], "nice": false}, "axis": {"values": [0,10,20,30,40,50,60,70], "title": "Relative Intensity", "titleFont": "Liberation Sans", "titleFontSize": 12.5, "titleFontWeight": "normal", "titleColor": "#111", "titlePadding": 2, "labelFont": "Liberation Sans", "labelFontSize": 10, "labelColor": "#222", "labelPadding": 1, "tickSize": 3, "domainColor": "#555", "tickColor": "#555", "grid": false}},
"y2": {"datum": 0},
"color": {"field": "g", "type": "nominal", "scale": {"domain": ["+0 Gly", "+1 Gly", "+2 Gly", "+3 Gly", "+4 Gly"], "range": ["#0a1ee6", "#f01414", "#ff9c14", "#1ec3f5", "#14a014"]}, "legend": null}}},
{"data": {"name": "dann"}, "transform": [{"filter": "datum.ld == 1"}], "mark": {"type": "rule", "strokeWidth": 1, "opacity": 0.65},
"encoding": {"x": {"field": "lmz", "type": "quantitative", "scale": {"domain": [905, 1595], "nice": false, "zero": false}, "axis": {"values": [1000,1100,1200,1300,1400,1500], "format": "d", "title": "m/z", "titleFont": "Liberation Sans", "titleFontSize": 12, "titleFontWeight": "normal", "titleColor": "#111", "titlePadding": -1, "labelFont": "Liberation Sans", "labelFontSize": 10, "labelColor": "#222", "labelPadding": 1, "tickSize": 3, "domainColor": "#555", "tickColor": "#555", "grid": false}}, "x2": {"field": "mz"},
"y": {"field": "li", "type": "quantitative", "scale": {"domain": [0, 80], "nice": false}, "axis": {"values": [0,10,20,30,40,50,60,70], "title": "Relative Intensity", "titleFont": "Liberation Sans", "titleFontSize": 12.5, "titleFontWeight": "normal", "titleColor": "#111", "titlePadding": 2, "labelFont": "Liberation Sans", "labelFontSize": 10, "labelColor": "#222", "labelPadding": 1, "tickSize": 3, "domainColor": "#555", "tickColor": "#555", "grid": false}}, "y2": {"field": "i"},
"color": {"field": "g", "type": "nominal", "scale": {"domain": ["+0 Gly", "+1 Gly", "+2 Gly", "+3 Gly", "+4 Gly"], "range": ["#0a1ee6", "#f01414", "#ff9c14", "#1ec3f5", "#14a014"]}, "legend": null}}},
{"data": {"name": "dann"}, "mark": {"type": "text", "font": "Liberation Sans", "fontSize": 13, "fontWeight": "bold", "baseline": "bottom", "align": "center", "dy": -1},
"encoding": {"x": {"field": "lmz", "type": "quantitative", "scale": {"domain": [905, 1595], "nice": false, "zero": false}, "axis": {"values": [1000,1100,1200,1300,1400,1500], "format": "d", "title": "m/z", "titleFont": "Liberation Sans", "titleFontSize": 12, "titleFontWeight": "normal", "titleColor": "#111", "titlePadding": -1, "labelFont": "Liberation Sans", "labelFontSize": 10, "labelColor": "#222", "labelPadding": 1, "tickSize": 3, "domainColor": "#555", "tickColor": "#555", "grid": false}},
"y": {"field": "li", "type": "quantitative", "scale": {"domain": [0, 80], "nice": false}, "axis": {"values": [0,10,20,30,40,50,60,70], "title": "Relative Intensity", "titleFont": "Liberation Sans", "titleFontSize": 12.5, "titleFontWeight": "normal", "titleColor": "#111", "titlePadding": 2, "labelFont": "Liberation Sans", "labelFontSize": 10, "labelColor": "#222", "labelPadding": 1, "tickSize": 3, "domainColor": "#555", "tickColor": "#555", "grid": false}},
"text": {"field": "ion"},
"color": {"field": "g", "type": "nominal", "scale": {"domain": ["+0 Gly", "+1 Gly", "+2 Gly", "+3 Gly", "+4 Gly"], "range": ["#0a1ee6", "#f01414", "#ff9c14", "#1ec3f5", "#14a014"]}, "legend": null}}},
{"data": {"name": "dann"}, "mark": {"type": "text", "font": "Liberation Sans", "fontSize": 9.5, "baseline": "bottom", "align": "left", "dx": 4, "dy": 2},
"encoding": {"x": {"field": "lmz", "type": "quantitative", "scale": {"domain": [905, 1595], "nice": false, "zero": false}, "axis": {"values": [1000,1100,1200,1300,1400,1500], "format": "d", "title": "m/z", "titleFont": "Liberation Sans", "titleFontSize": 12, "titleFontWeight": "normal", "titleColor": "#111", "titlePadding": -1, "labelFont": "Liberation Sans", "labelFontSize": 10, "labelColor": "#222", "labelPadding": 1, "tickSize": 3, "domainColor": "#555", "tickColor": "#555", "grid": false}},
"y": {"field": "li", "type": "quantitative", "scale": {"domain": [0, 80], "nice": false}, "axis": {"values": [0,10,20,30,40,50,60,70], "title": "Relative Intensity", "titleFont": "Liberation Sans", "titleFontSize": 12.5, "titleFontWeight": "normal", "titleColor": "#111", "titlePadding": 2, "labelFont": "Liberation Sans", "labelFontSize": 10, "labelColor": "#222", "labelPadding": 1, "tickSize": 3, "domainColor": "#555", "tickColor": "#555", "grid": false}},
"text": {"field": "k"},
"color": {"field": "g", "type": "nominal", "scale": {"domain": ["+0 Gly", "+1 Gly", "+2 Gly", "+3 Gly", "+4 Gly"], "range": ["#0a1ee6", "#f01414", "#ff9c14", "#1ec3f5", "#14a014"]}, "legend": null}}}
]
},
{
"layer": [
{"data": {"name": "dseq"}, "mark": {"type": "text", "font": "Liberation Sans", "fontSize": 17, "baseline": "middle", "align": "center", "color": "#000"},
"encoding": {"x": {"field": "p", "type": "quantitative", "scale": {"domain": [0.3023, 21.872], "nice": false, "zero": false}, "axis": null}, "y": {"datum": -3.3, "scale": {"domain": [-56.143, 0.4286], "nice": false, "zero": false}, "axis": null}, "text": {"field": "a"}}},
{"data": {"name": "dsite"}, "mark": {"type": "rule", "xOffset": 8.6, "strokeWidth": 1.4, "color": "#000", "clip": true},
"encoding": {"x": {"field": "n", "type": "quantitative", "scale": {"domain": [0.3023, 21.872], "nice": false, "zero": false}, "axis": null}, "y": {"datum": 0, "scale": {"domain": [-56.143, 0.4286], "nice": false, "zero": false}, "axis": null}, "y2": {"datum": -6}}},
{"data": {"name": "dsite"}, "mark": {"type": "rule", "xOffset": -8.6, "x2Offset": 8.6, "strokeWidth": 1.4, "color": "#000"},
"encoding": {"x": {"field": "n", "type": "quantitative", "scale": {"domain": [0.3023, 21.872], "nice": false, "zero": false}, "axis": null}, "x2": {"field": "n"}, "y": {"datum": 0, "scale": {"domain": [-56.143, 0.4286], "nice": false, "zero": false}, "axis": null}}},
{"data": {"name": "dsite"}, "transform": [{"filter": "datum.n < 21"}], "mark": {"type": "rule", "xOffset": 8.6, "x2Offset": 25.8, "strokeWidth": 1.4, "color": "#000"},
"encoding": {"x": {"field": "n", "type": "quantitative", "scale": {"domain": [0.3023, 21.872], "nice": false, "zero": false}, "axis": null}, "x2": {"field": "n"}, "y": {"datum": -6, "scale": {"domain": [-56.143, 0.4286], "nice": false, "zero": false}, "axis": null}}},
{"data": {"name": "dbar"}, "transform": [{"filter": "datum.lv > 0"}], "mark": {"type": "tick", "orient": "horizontal", "size": 11, "thickness": 3.2, "opacity": 1},
"encoding": {"x": {"field": "p", "type": "quantitative", "scale": {"domain": [0.3023, 21.872], "nice": false, "zero": false}, "axis": null}, "y": {"field": "lv", "type": "quantitative", "scale": {"domain": [-56.143, 0.4286], "nice": false, "zero": false}, "axis": null},
"color": {"field": "g", "type": "nominal", "scale": {"domain": ["+0 Gly", "+1 Gly", "+2 Gly", "+3 Gly", "+4 Gly"], "range": ["#0a1ee6", "#f01414", "#ff9c14", "#1ec3f5", "#14a014"]}, "legend": null}}},
{"data": {"name": "dbar"}, "transform": [{"filter": "datum.lv < 0"}], "mark": {"type": "tick", "orient": "horizontal", "size": 11, "thickness": 3.2, "opacity": 1, "yOffset": 22.5},
"encoding": {"x": {"field": "p", "type": "quantitative", "scale": {"domain": [0.3023, 21.872], "nice": false, "zero": false}, "axis": null}, "y": {"field": "lv", "type": "quantitative", "scale": {"domain": [-56.143, 0.4286], "nice": false, "zero": false}, "axis": null},
"color": {"field": "g", "type": "nominal", "scale": {"domain": ["+0 Gly", "+1 Gly", "+2 Gly", "+3 Gly", "+4 Gly"], "range": ["#0a1ee6", "#f01414", "#ff9c14", "#1ec3f5", "#14a014"]}, "legend": null}}}
]
},
{
"layer": [
{"data": {"name": "gly"}, "mark": {"type": "tick", "orient": "horizontal", "size": 15, "thickness": 4, "opacity": 1},
"encoding": {"x": {"datum": 17.42, "type": "quantitative", "scale": {"domain": [0.3023, 21.872], "nice": false, "zero": false}, "axis": null}, "y": {"field": "g", "type": "nominal", "scale": {"type": "point", "padding": 0, "range": [60, 97], "domain": ["+0 Gly", "+1 Gly", "+2 Gly", "+3 Gly", "+4 Gly"]}, "axis": null},
"color": {"field": "g", "type": "nominal", "scale": {"domain": ["+0 Gly", "+1 Gly", "+2 Gly", "+3 Gly", "+4 Gly"], "range": ["#0a1ee6", "#f01414", "#ff9c14", "#1ec3f5", "#14a014"]}, "legend": null}}},
{"data": {"name": "gly"}, "mark": {"type": "text", "font": "Liberation Sans", "fontSize": 12.5, "align": "left", "baseline": "middle", "color": "#222"},
"encoding": {"x": {"datum": 17.98, "type": "quantitative", "scale": {"domain": [0.3023, 21.872], "nice": false, "zero": false}, "axis": null}, "y": {"field": "g", "type": "nominal", "scale": {"type": "point", "padding": 0, "range": [60, 97], "domain": ["+0 Gly", "+1 Gly", "+2 Gly", "+3 Gly", "+4 Gly"]}, "axis": null}, "text": {"field": "g"}}}
]
}
]
}
]
}
]
}
